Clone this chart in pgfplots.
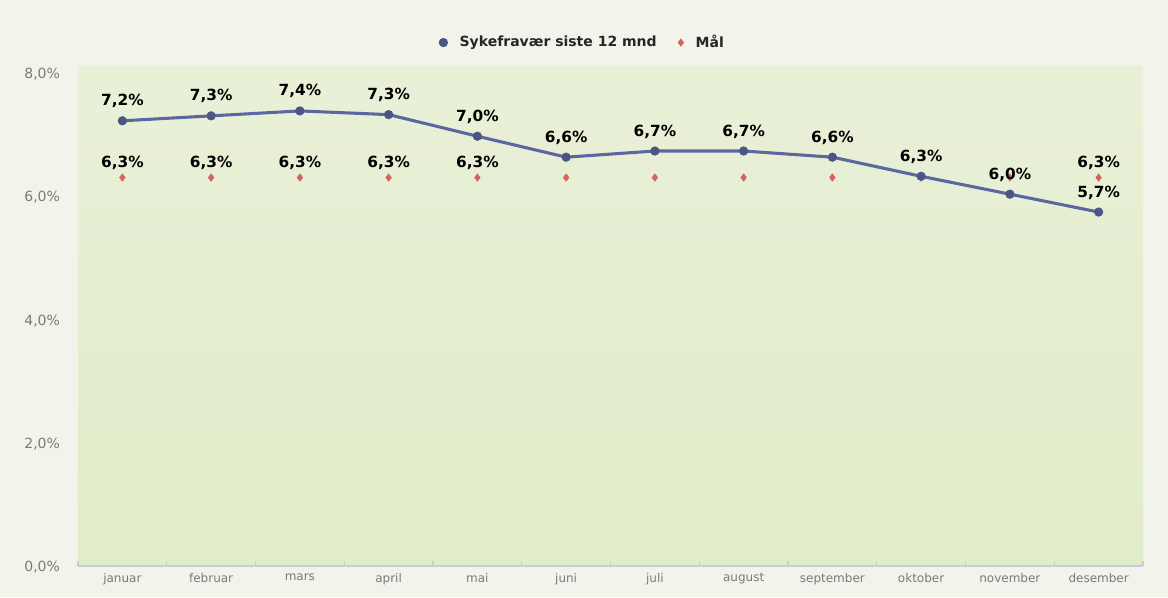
\documentclass[border=0pt]{standalone}
\usepackage{fontspec}
\setmainfont{DejaVu Sans}
\usepackage{pgfplots}
\pgfplotsset{compat=1.18}
\usetikzlibrary{backgrounds}
\definecolor{outerbg}{HTML}{F2F4EC}
\definecolor{plottop}{HTML}{E9F0D8}
\definecolor{plotbot}{HTML}{E1ECC8}
\definecolor{linecol}{HTML}{5C66A0}
\definecolor{markcol}{HTML}{4B5684}
\definecolor{goalcol}{HTML}{D8625C}
\definecolor{tickcol}{HTML}{7A7A7A}
\definecolor{axiscol}{HTML}{C5CCDD}

\pgfplotstableread{
x  y
0  7.22
1  7.30
2  7.38
3  7.32
4  6.97
5  6.63
6  6.73
7  6.73
8  6.63
9  6.32
10 6.03
11 5.74
}\sykefravaer

\pgfplotstableread{
x  y
0  6.3
1  6.3
2  6.3
3  6.3
4  6.3
5  6.3
6  6.3
7  6.3
8  6.3
9  6.3
10 6.3
11 6.3
}\maal

% Mål points that carry a visible value label in the chart
\pgfplotstableread{
x  y
0  6.3
1  6.3
2  6.3
3  6.3
4  6.3
11 6.3
}\maallabels

\begin{document}
\begin{tikzpicture}
\begin{axis}[
  scale only axis,
  width=798.75pt, height=374.6pt,
  xmin=-0.5, xmax=11.5, ymin=0, ymax=8.1,
  axis x line*=bottom,
  axis y line*=left,
  x axis line style={axiscol, line width=1pt, -},
  y axis line style={draw=none},
  xtick={0,...,11},
  xticklabels={januar,februar,mars,april,mai,juni,juli,august,september,oktober,november,desember},
  major x tick style={draw=none},
  minor xtick={-0.5,0.5,...,11.5},
  minor x tick style={axiscol, line width=0.8pt},
  minor tick length=4pt,
  ytick={0,2,4,6,8},
  yticklabels={{0,0\%},{2,0\%},{4,0\%},{6,0\%},{8,0\%}},
  ytick style={draw=none},
  tick label style={text=tickcol},
  xticklabel style={font=\fontsize{9}{10}\selectfont, yshift=-2pt},
  yticklabel style={font=\fontsize{10.5}{12}\selectfont, xshift=-10pt, anchor=east, yshift=-1pt},
  axis background/.style={shade, top color=plottop, bottom color=plotbot, draw=none},
  legend columns=-1,
  reverse legend,
  legend style={draw=none, fill=none, at={(0.474,1.048)}, anchor=center,
    font=\bfseries\fontsize{10.5}{12}\selectfont, text=black!85,
    /tikz/every odd column/.append style={column sep=7pt},
    /tikz/every even column/.append style={column sep=14pt}},
  legend image code/.code={\draw[#1] plot coordinates {(0.15cm,0cm)};},
  every node near coord/.append style={font=\bfseries\fontsize{11.5}{13}\selectfont, text=black},
  clip=false,
]
\addplot[only marks, mark=diamond*, mark size=2.8pt, goalcol,
  mark options={fill=goalcol}]
  table[x=x,y=y]{\maal};
\addlegendentry{Mål}
\addplot[linecol, line width=2.3pt, mark=*, mark size=3.2pt,
  mark options={fill=markcol, draw=markcol, line width=0.5pt},
  nodes near coords={\pgfmathprintnumber[fixed,fixed zerofill,precision=1,use comma,assume math mode=true]{\pgfplotspointmeta}\%},
  every node near coord/.append style={yshift=6pt}]
  table[x=x,y=y]{\sykefravaer};
\addlegendentry{Sykefravær siste 12 mnd}
\addplot[only marks, mark=none, forget plot,
  nodes near coords={\pgfmathprintnumber[fixed,fixed zerofill,precision=1,use comma,assume math mode=true]{\pgfplotspointmeta}\%},
  every node near coord/.append style={yshift=2pt}]
  table[x=x,y=y]{\maallabels};
\coordinate (sw) at (rel axis cs:0,0);
\end{axis}
\pgfresetboundingbox
\path[use as bounding box] ([shift={(-58.5pt,-23.25pt)}]sw) rectangle ([shift={(817.5pt,424.5pt)}]sw);
\begin{scope}[on background layer]
\fill[outerbg] ([shift={(-58.5pt,-23.25pt)}]sw) rectangle ([shift={(817.5pt,424.5pt)}]sw);
\end{scope}
\end{tikzpicture}
\end{document}
